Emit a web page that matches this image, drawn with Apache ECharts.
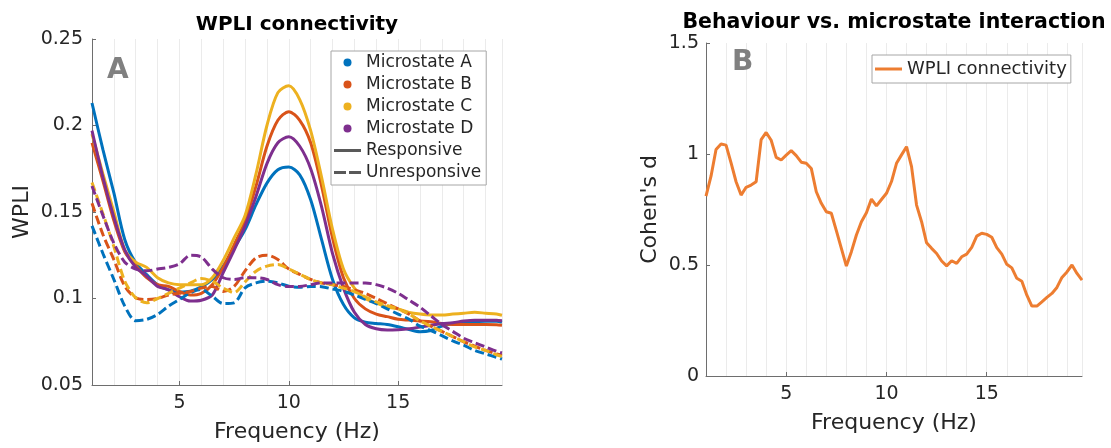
<!DOCTYPE html>
<html>
<head>
<meta charset="utf-8">
<script src="https://cdn.jsdelivr.net/npm/echarts@6/dist/echarts.min.js"></script>
<style>
  html, body { margin: 0; padding: 0; background: #ffffff; }
  #chart { width: 1111px; height: 448px; }
</style>
</head>
<body>
<div id="chart"></div>
<script>
// ---- Panel A: WPLI per microstate (responsive = solid, unresponsive = dashed) ----
const freqA = [1, 1.5, 2, 2.5, 3, 3.5, 4, 4.5, 5, 5.5, 6, 6.5, 7, 7.5, 8, 8.5, 9, 9.5, 10, 10.5,
  11, 11.5, 12, 12.5, 13, 13.5, 14, 14.5, 15, 15.5, 16, 16.5, 17, 17.5, 18, 18.5, 19, 19.5, 19.75];

const respA = [0.213, 0.186, 0.161, 0.134, 0.1206, 0.1138, 0.108, 0.105, 0.1037, 0.1042, 0.1067, 0.111, 0.1187, 0.1292, 0.1398, 0.1542, 0.1667, 0.1744, 0.176, 0.1715,
  0.1571, 0.134, 0.111, 0.0965, 0.0888, 0.0863, 0.0856, 0.085, 0.0837, 0.0821, 0.0808, 0.0815, 0.084, 0.0856, 0.0863, 0.0865, 0.0869, 0.0869, 0.0863];
const respB = [0.19, 0.168, 0.145, 0.127, 0.119, 0.112, 0.108, 0.107, 0.104, 0.102, 0.103, 0.108, 0.118, 0.131, 0.145, 0.165, 0.188, 0.203, 0.208, 0.203,
  0.19, 0.165, 0.135, 0.112, 0.1, 0.094, 0.091, 0.0895, 0.088, 0.0875, 0.087, 0.0865, 0.0855, 0.085, 0.085, 0.085, 0.085, 0.0848, 0.0845];
const respC = [0.195, 0.172, 0.15, 0.128, 0.121, 0.118, 0.112, 0.109, 0.108, 0.108, 0.108, 0.112, 0.122, 0.135, 0.148, 0.172, 0.2, 0.219, 0.223, 0.215,
  0.197, 0.17, 0.14, 0.117, 0.106, 0.1, 0.0975, 0.095, 0.094, 0.092, 0.091, 0.0905, 0.0905, 0.091, 0.0915, 0.092, 0.0915, 0.091, 0.0903];
const respD = [0.197, 0.17, 0.147, 0.128, 0.118, 0.113, 0.107, 0.105, 0.101, 0.0985, 0.099, 0.102, 0.115, 0.128, 0.142, 0.159, 0.178, 0.19, 0.1935, 0.188,
  0.175, 0.153, 0.126, 0.106, 0.092, 0.085, 0.0825, 0.0818, 0.082, 0.0825, 0.0835, 0.0845, 0.0855, 0.086, 0.087, 0.0875, 0.0875, 0.0875, 0.0872];

const unrA = [0.142, 0.126, 0.111, 0.0956, 0.0872, 0.0879, 0.0908, 0.0956, 0.0994, 0.1033, 0.1052, 0.1013, 0.0971, 0.0975, 0.1062, 0.109, 0.11, 0.109, 0.1071, 0.1065,
  0.107, 0.1068, 0.1055, 0.1042, 0.102, 0.0995, 0.097, 0.094, 0.091, 0.088, 0.084, 0.0815, 0.0785, 0.0755, 0.073, 0.07, 0.068, 0.066, 0.065];
const unrB = [0.155, 0.137, 0.1225, 0.1071, 0.1004, 0.0994, 0.1, 0.102, 0.103, 0.104, 0.106, 0.107, 0.104, 0.107, 0.116, 0.1235, 0.125, 0.1225, 0.117, 0.114,
  0.111, 0.109, 0.108, 0.107, 0.105, 0.103, 0.1, 0.097, 0.094, 0.091, 0.087, 0.084, 0.081, 0.078, 0.075, 0.0725, 0.07, 0.068, 0.0672];
const unrC = [0.167, 0.149, 0.13, 0.11, 0.1004, 0.0975, 0.1, 0.103, 0.106, 0.109, 0.1115, 0.11, 0.106, 0.1035, 0.1096, 0.1158, 0.1187, 0.1196, 0.117, 0.114,
  0.111, 0.109, 0.108, 0.106, 0.104, 0.101, 0.098, 0.096, 0.094, 0.091, 0.087, 0.084, 0.081, 0.078, 0.075, 0.072, 0.07, 0.0675, 0.0665];
const unrD = [0.165, 0.148, 0.132, 0.121, 0.117, 0.116, 0.117, 0.118, 0.12, 0.125, 0.124, 0.117, 0.112, 0.111, 0.112, 0.112, 0.111, 0.108, 0.107, 0.107,
  0.108, 0.109, 0.109, 0.109, 0.109, 0.109, 0.108, 0.106, 0.103, 0.099, 0.095, 0.09, 0.085, 0.081, 0.077, 0.0745, 0.072, 0.0695, 0.0685];

const microstates = ['Microstate A', 'Microstate B', 'Microstate C', 'Microstate D'];
const stateColors = ['#0072BD', '#D95319', '#EDB120', '#7E2F8E'];
const responsiveSets = [respA, respB, respC, respD];
const unresponsiveSets = [unrA, unrB, unrC, unrD];

// ---- Panel B: effect size of the behaviour x microstate interaction ----
const freqB = [1, 1.25, 1.5, 1.75, 2, 2.25, 2.5, 2.75, 3, 3.25, 3.5, 3.75, 4, 4.25, 4.5, 4.75,
  5, 5.25, 5.5, 5.75, 6, 6.25, 6.5, 6.75, 7, 7.25, 7.5, 7.75, 8, 8.25, 8.5, 8.75,
  9, 9.25, 9.5, 9.75, 10, 10.25, 10.5, 10.75, 11, 11.25, 11.5, 11.75, 12, 12.25, 12.5, 12.75,
  13, 13.25, 13.5, 13.75, 14, 14.25, 14.5, 14.75, 15, 15.25, 15.5, 15.75, 16, 16.25, 16.5, 16.75,
  17, 17.25, 17.5, 17.75, 18, 18.25, 18.5, 18.75, 19, 19.25, 19.5, 19.75];
const cohensD = [0.81, 0.9, 1.02, 1.045, 1.04, 0.96, 0.875, 0.815, 0.85, 0.86, 0.875, 1.065, 1.097, 1.062, 0.985, 0.973,
  0.995, 1.015, 0.993, 0.963, 0.958, 0.935, 0.83, 0.778, 0.74, 0.733, 0.655, 0.575, 0.495, 0.56, 0.635, 0.695,
  0.735, 0.797, 0.766, 0.795, 0.823, 0.876, 0.958, 0.996, 1.033, 0.943, 0.77, 0.695, 0.6, 0.575, 0.552, 0.518,
  0.496, 0.519, 0.507, 0.537, 0.549, 0.579, 0.63, 0.643, 0.638, 0.625, 0.578, 0.549, 0.503, 0.487, 0.44, 0.427,
  0.364, 0.315, 0.315, 0.334, 0.354, 0.372, 0.399, 0.444, 0.469, 0.5, 0.462, 0.432];

const ticksHz = [5, 10, 15];

const FONT = 'DejaVu Sans';
const AXIS_COLOR = '#6e6e6e';
const TEXT_COLOR = '#262626';
const GRID_COLOR = '#ebebeb';
const dash = [9, 4];

// legend keys drawn as plain strokes (solid / two dashes)
const ICON_SOLID = 'path://M0,0h27v3h-27z';
const ICON_DASHED = 'path://M0,0h12v3h-12zM15,0h12v3h-12z';

function pairs(xs, ys) { return xs.map((x, i) => [x, ys[i]]); }

function labelledXAxis(gridIndex) {
  return {
    type: 'value', gridIndex, min: 1, max: 19.75,
    name: 'Frequency (Hz)', nameLocation: 'middle', nameGap: 36,
    nameTextStyle: { fontFamily: FONT, fontSize: 22, color: TEXT_COLOR },
    axisLine: { show: true, lineStyle: { color: AXIS_COLOR, width: 1 } },
    axisTick: { show: true, inside: true, length: 4, customValues: ticksHz, lineStyle: { color: AXIS_COLOR } },
    axisLabel: { customValues: ticksHz, margin: 9, fontFamily: FONT, fontSize: 19, color: TEXT_COLOR },
    splitLine: { show: false }
  };
}
// a silent companion axis that only draws the 1 Hz vertical grid
function gridXAxis(gridIndex) {
  return {
    type: 'value', gridIndex, min: 1, max: 19.75, interval: 1, position: 'bottom',
    axisLine: { show: false }, axisTick: { show: false }, axisLabel: { show: false },
    splitLine: { show: true, lineStyle: { color: GRID_COLOR, width: 1 } }
  };
}

const series = [];
microstates.forEach((name, i) => {
  series.push({
    name, type: 'line', xAxisIndex: 0, yAxisIndex: 0, color: stateColors[i],
    data: pairs(freqA, responsiveSets[i]), smooth: 0.3, showSymbol: false, symbol: 'none',
    lineStyle: { width: 3 }, z: 3
  });
});
microstates.forEach((name, i) => {
  series.push({
    name: name + ' (unresponsive)', type: 'line', xAxisIndex: 0, yAxisIndex: 0, color: stateColors[i],
    data: pairs(freqA, unresponsiveSets[i]), smooth: 0.3, showSymbol: false, symbol: 'none',
    lineStyle: { width: 3, type: dash }, z: 3
  });
});
// legend-only entries for the line style key
series.push({ name: 'Responsive', type: 'line', xAxisIndex: 0, yAxisIndex: 0, color: '#595959',
  data: [], symbol: 'none', lineStyle: { width: 3 } });
series.push({ name: 'Unresponsive', type: 'line', xAxisIndex: 0, yAxisIndex: 0, color: '#595959',
  data: [], symbol: 'none', lineStyle: { width: 3, type: dash } });

series.push({
  name: 'WPLI connectivity', type: 'line', xAxisIndex: 2, yAxisIndex: 1, color: '#ED7D31',
  data: pairs(freqB, cohensD), showSymbol: false, symbol: 'none', lineStyle: { width: 3 }, z: 3
});

const chart = echarts.init(document.getElementById('chart'), null, { renderer: 'canvas' });
chart.setOption({
  animation: false,
  backgroundColor: '#ffffff',
  textStyle: { fontFamily: FONT },
  title: [
    { text: 'WPLI connectivity', left: 297, top: 15, textAlign: 'center', padding: 0,
      textStyle: { fontFamily: FONT, fontSize: 20, fontWeight: 'bold', color: '#000000' } },
    { text: 'Behaviour vs. microstate interaction', left: 894, top: 12, textAlign: 'center', padding: 0,
      textStyle: { fontFamily: FONT, fontSize: 20.5, fontWeight: 'bold', color: '#000000' } }
  ],
  grid: [
    { left: 92, top: 39, width: 410, height: 347 },
    { left: 706, top: 43, width: 376, height: 333 }
  ],
  xAxis: [labelledXAxis(0), gridXAxis(0), labelledXAxis(1), gridXAxis(1)],
  yAxis: [
    { type: 'value', gridIndex: 0, min: 0.05, max: 0.25, interval: 0.05,
      name: 'WPLI', nameLocation: 'middle', nameGap: 59,
      nameTextStyle: { fontFamily: FONT, fontSize: 22, color: TEXT_COLOR },
      axisLine: { show: true, lineStyle: { color: AXIS_COLOR, width: 1 } },
      axisTick: { show: true, inside: true, length: 4, lineStyle: { color: AXIS_COLOR } },
      axisLabel: { margin: 9, fontFamily: FONT, fontSize: 19, color: TEXT_COLOR },
      splitLine: { show: false } },
    { type: 'value', gridIndex: 1, min: 0, max: 1.5, interval: 0.5,
      name: "Cohen's d", nameLocation: 'middle', nameGap: 45,
      nameTextStyle: { fontFamily: FONT, fontSize: 22, color: TEXT_COLOR },
      axisLine: { show: true, lineStyle: { color: AXIS_COLOR, width: 1 } },
      axisTick: { show: true, inside: true, length: 4, lineStyle: { color: AXIS_COLOR } },
      axisLabel: { margin: 7, fontFamily: FONT, fontSize: 19, color: TEXT_COLOR },
      splitLine: { show: false } }
  ],
  legend: [
    { orient: 'vertical', left: 331, top: 51, padding: [3, 5, 4, 3], itemGap: 5,
      itemWidth: 27, itemHeight: 8, selectedMode: false,
      backgroundColor: '#ffffff', borderColor: '#a6a6a6', borderWidth: 1, borderRadius: 0,
      textStyle: { fontFamily: FONT, fontSize: 17, color: TEXT_COLOR },
      data: [
        { name: 'Microstate A', icon: 'circle' },
        { name: 'Microstate B', icon: 'circle' },
        { name: 'Microstate C', icon: 'circle' },
        { name: 'Microstate D', icon: 'circle' },
        { name: 'Responsive', icon: ICON_SOLID },
        { name: 'Unresponsive', icon: ICON_DASHED }
      ] },
    { orient: 'vertical', left: 872, top: 55, padding: [5, 4, 5, 3],
      itemWidth: 27, itemHeight: 8, selectedMode: false,
      backgroundColor: '#ffffff', borderColor: '#a6a6a6', borderWidth: 1, borderRadius: 0,
      textStyle: { fontFamily: FONT, fontSize: 18, color: TEXT_COLOR },
      data: [{ name: 'WPLI connectivity', icon: ICON_SOLID }] }
  ],
  graphic: [
    { type: 'text', left: 107, top: 57, z: 10,
      style: { text: 'A', fontFamily: FONT, fontSize: 28, fontWeight: 'bold', fill: '#808080' } },
    { type: 'text', left: 732, top: 49, z: 10,
      style: { text: 'B', fontFamily: FONT, fontSize: 28, fontWeight: 'bold', fill: '#808080' } }
  ],
  series
});
</script>
</body>
</html>
